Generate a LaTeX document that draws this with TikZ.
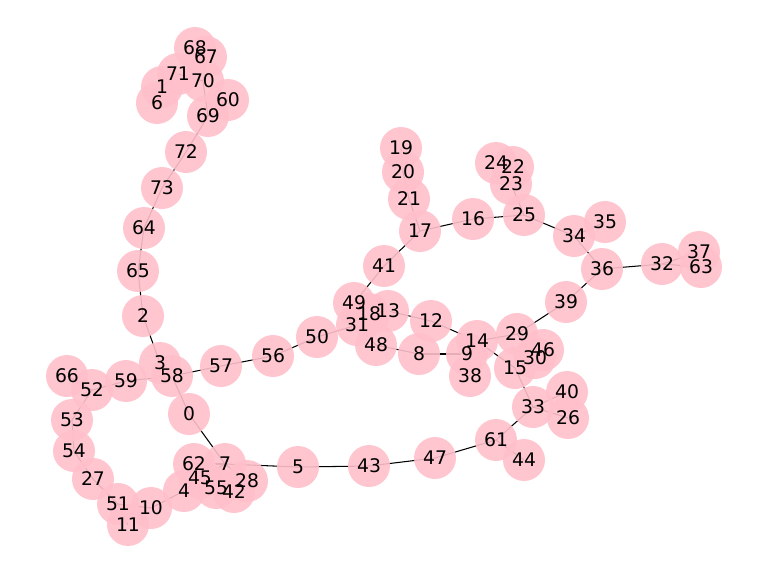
\documentclass[tikz,border=0pt]{standalone}
\usepackage{fontspec}
\setmainfont{DejaVu Sans}
\usetikzlibrary{backgrounds}
\definecolor{nodepink}{RGB}{255,192,203}

\tikzset{
    vertex/.style={circle, fill=nodepink, fill opacity=0.9,
        minimum size=1.26cm, inner sep=0pt},
    tag/.style={inner sep=0pt, font=\fontsize{16}{16}\selectfont},
    link/.style={black, line width=0.9pt}
}

\begin{document}
\begin{tikzpicture}[x=0.03cm, y=-0.03cm]
    \useasboundingbox (0,0) rectangle (768,576);

    % Vertices
    \foreach \n/\x/\y in {0/189/414, 1/162/87, 2/143/316, 3/160/363, 4/184/491,
        5/298/467, 6/157/103, 7/225/464, 8/419/354, 9/467/354, 10/151/508,
        11/128/525, 12/431/321, 13/388/311, 14/477/341, 15/515/368, 16/473/219,
        17/420/231, 18/369/314, 19/401/148, 20/403/172, 21/409/199, 22/513/167,
        23/511/184, 24/496/163, 25/524/215, 26/568/418, 27/93/479, 28/247/481,
        29/517/334, 30/535/358, 31/357/325, 32/662/264, 33/533/407, 34/574/236,
        35/605/222, 36/602/269, 37/699/252, 38/470/376, 39/566/302, 40/567/392,
        41/384/266, 42/234/492, 43/369/466, 44/524/460, 45/200/478, 46/543/350,
        47/435/458, 48/376/345, 49/354/303, 50/317/337, 51/118/504, 52/92/390,
        53/72/420, 54/74/451, 55/216/488, 56/273/356, 57/221/366, 58/172/376,
        59/126/381, 60/228/100, 61/496/440, 62/194/464, 63/701/267, 64/144/228,
        65/138/271, 66/67/376, 67/206/57, 68/195/48, 69/208/116, 70/203/81,
        71/178/74, 72/186/152, 73/162/188}
        \node[vertex] (v\n) at (\x,\y) {};

    % Labels
    \foreach \n in {0,...,73}
        \node[tag] at (v\n.center) {\n};

    % Links
    \begin{pgfonlayer}{background}
    \foreach \a/\b in {69/72, 72/73, 73/64, 64/65, 65/2, 2/3, 3/58, 58/59,
        59/52, 52/66, 52/53, 53/54, 54/27, 27/51, 51/11, 51/10, 10/4, 4/45,
        45/7, 62/7, 7/55, 55/42, 7/28, 58/0, 0/7, 7/5, 5/43, 43/47, 47/61,
        61/44, 61/33, 33/40, 33/26, 33/15, 15/14, 14/29, 29/30, 30/46, 29/39,
        39/36, 36/32, 32/37, 32/63, 36/34, 34/35, 34/25, 25/16, 25/23, 23/22,
        23/24, 16/17, 17/21, 21/20, 20/19, 17/41, 41/49, 49/31, 31/50, 50/56,
        56/57, 57/58, 31/18, 18/13, 13/12, 12/14, 14/9, 9/8, 8/48, 48/31,
        9/38, 69/70, 70/71, 71/1, 1/6, 70/67, 67/68, 69/60}
        \draw[link] (v\a.center) -- (v\b.center);
    \end{pgfonlayer}
\end{tikzpicture}
\end{document}
